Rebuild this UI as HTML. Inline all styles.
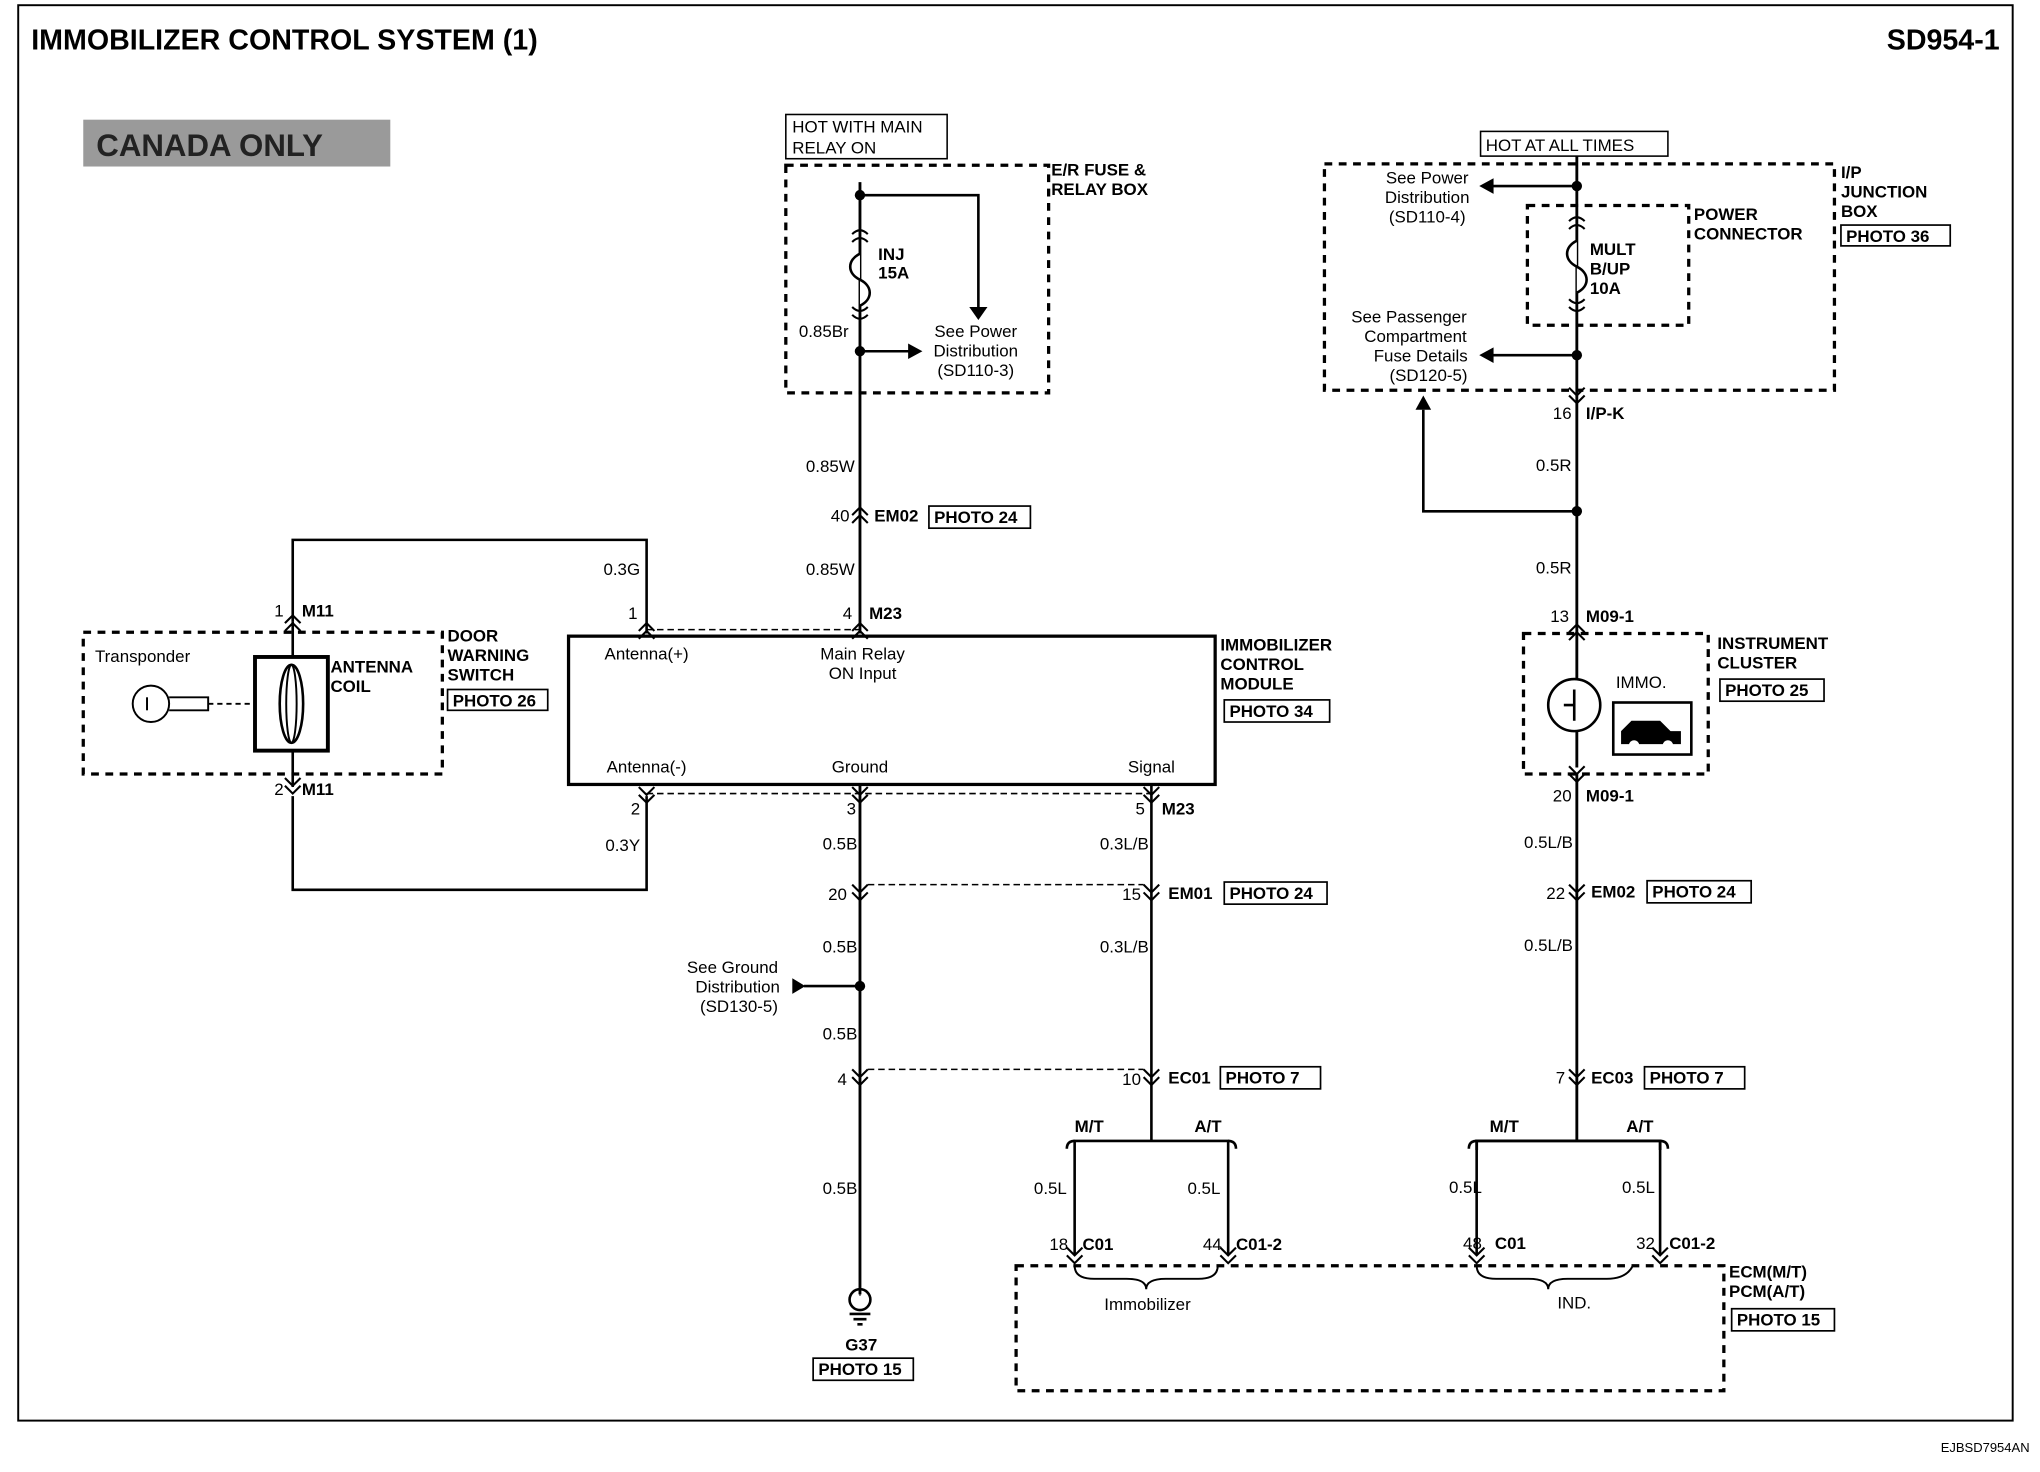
<!DOCTYPE html>
<html><head><meta charset="utf-8"><style>
html,body{margin:0;padding:0;background:#fff;}
svg{display:block;}
text{font-family:"Liberation Sans",Arial,sans-serif;font-size:13px;fill:#000;}
.b{font-weight:bold;}
</style></head><body>
<svg width="2040" height="1472" viewBox="0 0 1568 1131.5" preserveAspectRatio="none" xmlns="http://www.w3.org/2000/svg">
<defs>
<g id="cn" fill="none" stroke="#000" stroke-width="1.6"><path d="M-6,-7 L0,-1 L6,-7 M-6,-1 L0,5 L6,-1"/></g>
<g id="cu" fill="none" stroke="#000" stroke-width="1.6"><path d="M-6,7 L0,1 L6,7 M-6,1 L0,-5 L6,1"/></g>
</defs>
<rect x="0" y="0" width="1568" height="1131.5" fill="#fff"/>
<rect x="14" y="4" width="1533" height="1088" fill="none" stroke="#000" stroke-width="1.5"/>
<text x="24" y="38" class="b" style="font-size:22px">IMMOBILIZER CONTROL SYSTEM (1)</text>
<text x="1537" y="38" class="b" text-anchor="end" style="font-size:22px">SD954-1</text>
<text x="1560" y="1116" text-anchor="end" style="font-size:10px">EJBSD7954AN</text>
<rect x="64" y="92" width="236" height="36" fill="#9a9a9a"/>
<text x="74" y="120" class="b" style="font-size:24px;fill:#222">CANADA ONLY</text>

<g fill="none" stroke="#000">
<!-- left fuse box -->
<rect x="604" y="88" width="124" height="34" stroke-width="1.2"/>
<rect x="604" y="127" width="202" height="175" stroke-width="2.5" stroke-dasharray="6,5"/>
<path d="M661,140 V487" stroke-width="2.2"/>
<path d="M661,150 H752 V236" stroke-width="2"/>
<path d="M661,270 H700" stroke-width="2"/>
<path d="M655,180 q6,-6 12,0 M655,186 q6,-6 12,0" stroke-width="1.6"/>
<path d="M661,195 c-10,5 -10,15 0,20 c10,5 10,15 0,20" fill="#fff" stroke-width="2"/>
<path d="M655,236 q6,6 12,0 M655,242 q6,6 12,0" stroke-width="1.6"/>
<!-- module -->
<rect x="437" y="489" width="497" height="114" stroke-width="2.5"/>
<path d="M497,484 H661" stroke-width="1.2" stroke-dasharray="5,3"/>
<path d="M497,610 H885" stroke-width="1.2" stroke-dasharray="5,3"/>
<path d="M497,487 V415 H225 V478" stroke-width="2"/>
<path d="M225,612 V684 H497 V612" stroke-width="2"/>
<rect x="196" y="505" width="56" height="72" stroke-width="3"/>
<ellipse cx="224" cy="541" rx="9" ry="30" stroke-width="2"/>
<ellipse cx="224" cy="541" rx="4" ry="30" stroke-width="1.5"/>
<path d="M225,478 V505 M225,577 V605" stroke-width="2"/>
<rect x="64" y="486" width="276" height="109" stroke-width="2.5" stroke-dasharray="6,5"/>
<circle cx="116" cy="541" r="14" stroke-width="1.5"/>
<path d="M130,536 H160 V546 H130" stroke-width="1.5"/>
<path d="M113,536 V546" stroke-width="1.5"/>
<path d="M160,541 H196" stroke-width="1.5" stroke-dasharray="4,3"/>
<!-- ground wire -->
<path d="M661,603 V995" stroke-width="2.2"/>
<path d="M661,758 H618" stroke-width="2"/>
<path d="M667,680 H879 M667,822 H879" stroke-width="1.2" stroke-dasharray="5,3"/>
<path d="M885,603 V877 M826,884 V877 H944 V884" stroke-width="2"/>
<path d="M826,877 q-6,0 -6,6 M826,884 V965 M944,884 V965 M944,877 q6,0 6,6" stroke-width="2"/>
<path d="M661,995 V996" />
<circle cx="661" cy="999" r="8" stroke-width="2"/>
<path d="M653,1010 H669 M656,1014 H666 M659,1018 H663" stroke-width="2"/>
<rect x="781" y="973" width="544" height="96" stroke-width="2.5" stroke-dasharray="6,5"/>
<path d="M826,973 q0,10 15,10 h25 q15,0 15,8 q0,-8 15,-8 h25 q15,0 15,-10" stroke-width="1.5"/>
<path d="M1135,973 q0,10 15,10 h25 q15,0 15,8 q0,-8 15,-8 h30 q15,0 20,-10" stroke-width="1.5"/>
<!-- right -->
<rect x="1138" y="101" width="144" height="19" stroke-width="1.2"/>
<rect x="1018" y="126" width="392" height="174" stroke-width="2.5" stroke-dasharray="6,5"/>
<rect x="1174" y="158" width="124" height="92" stroke-width="2.5" stroke-dasharray="6,5"/>
<path d="M1212,120 V590" stroke-width="2.2"/>
<path d="M1212,143 H1146 M1212,273 H1146" stroke-width="2"/>
<path d="M1206,170 q6,-6 12,0 M1206,176 q6,-6 12,0" stroke-width="1.6"/>
<path d="M1212,185 c-10,5 -10,15 0,20 c10,5 10,15 0,20" fill="#fff" stroke-width="2"/>
<path d="M1206,230 q6,6 12,0 M1206,236 q6,6 12,0" stroke-width="1.6"/>
<path d="M1212,393 H1094 V315" stroke-width="2"/>
<rect x="1171" y="487" width="142" height="108" stroke-width="2.5" stroke-dasharray="6,5"/>
<circle cx="1210" cy="542" r="20" fill="#fff" stroke-width="2"/>
<path d="M1212,595 V877 M1135,884 V877 H1276 V884" stroke-width="2.2"/>
<path d="M1135,877 q-6,0 -6,6 M1135,884 V965 M1276,884 V965 M1276,877 q6,0 6,6" stroke-width="2"/>
<rect x="1240" y="540" width="60" height="40" stroke-width="2"/>
<!-- photo boxes -->
<g stroke-width="1.3">
<rect x="714" y="389" width="78" height="17"/>
<rect x="941" y="538" width="81" height="17"/>
<rect x="344" y="530" width="77" height="16"/>
<rect x="625" y="1044" width="77" height="17"/>
<rect x="941" y="678" width="79" height="17"/>
<rect x="938" y="820" width="77" height="17"/>
<rect x="1331" y="1006" width="79" height="17"/>
<rect x="1415" y="173" width="84" height="16"/>
<rect x="1322" y="522" width="80" height="17"/>
<rect x="1266" y="677" width="80" height="17"/>
<rect x="1264" y="820" width="77" height="17"/>
</g>
</g>
<circle cx="661" cy="150" r="4"/><circle cx="661" cy="270" r="4"/><circle cx="661" cy="758" r="4"/>
<circle cx="1212" cy="143" r="4"/><circle cx="1212" cy="273" r="4"/><circle cx="1212" cy="393" r="4"/>
<polygon points="745,236 759,236 752,246"/>
<polygon points="698,264 698,276 709,270"/>
<polygon points="1148,137 1148,149 1137,143"/>
<polygon points="1148,267 1148,279 1137,273"/>
<polygon points="1088,315 1100,315 1094,304"/>
<polygon points="609,752 609,764 619,758"/>
<path d="M1246,572 v-10 l8,-8 h22 l8,8 h8 v10 z" fill="#000"/>
<circle cx="1256" cy="573" r="4" fill="#fff"/><circle cx="1282" cy="573" r="4" fill="#fff"/>
<path d="M1202,542 h8 M1210,530 v24" stroke="#000" stroke-width="2" fill="none"/>
<!-- connectors -->
<use href="#cu" x="661" y="395"/><use href="#cu" x="661" y="484"/><use href="#cu" x="497" y="484"/>
<use href="#cu" x="225" y="478"/><use href="#cn" x="225" y="605"/>
<use href="#cn" x="497" y="612"/><use href="#cn" x="661" y="612"/><use href="#cn" x="885" y="612"/>
<use href="#cn" x="661" y="687"/><use href="#cn" x="885" y="687"/>
<use href="#cn" x="661" y="829"/><use href="#cn" x="885" y="829"/>
<use href="#cn" x="826" y="966"/><use href="#cn" x="944" y="966"/>
<use href="#cn" x="1135" y="966"/><use href="#cn" x="1276" y="966"/>
<use href="#cn" x="1212" y="305"/><use href="#cu" x="1212" y="485"/><use href="#cn" x="1212" y="596"/>
<use href="#cn" x="1212" y="687"/><use href="#cn" x="1212" y="829"/>
<!-- texts -->
<text x="609" y="102">HOT WITH MAIN</text><text x="609" y="118">RELAY ON</text>
<text x="808" y="135" class="b">E/R FUSE &amp;</text><text x="808" y="150" class="b">RELAY BOX</text>
<text x="675" y="200" class="b">INJ</text><text x="675" y="214" class="b">15A</text>
<text x="614" y="259">0.85Br</text>
<text x="750" y="259" text-anchor="middle">See Power</text><text x="750" y="274" text-anchor="middle">Distribution</text><text x="750" y="289" text-anchor="middle">(SD110-3)</text>
<text x="657" y="363" text-anchor="end">0.85W</text>
<text x="653" y="401" text-anchor="end">40</text><text x="672" y="401" class="b">EM02</text><text x="718" y="402" class="b">PHOTO 24</text>
<text x="657" y="442" text-anchor="end">0.85W</text>
<text x="655" y="476" text-anchor="end">4</text><text x="668" y="476" class="b">M23</text>
<text x="492" y="442" text-anchor="end">0.3G</text><text x="490" y="476" text-anchor="end">1</text>
<text x="497" y="507" text-anchor="middle">Antenna(+)</text>
<text x="663" y="507" text-anchor="middle">Main Relay</text><text x="663" y="522" text-anchor="middle">ON Input</text>
<text x="497" y="594" text-anchor="middle">Antenna(-)</text><text x="661" y="594" text-anchor="middle">Ground</text><text x="885" y="594" text-anchor="middle">Signal</text>
<text x="938" y="500" class="b">IMMOBILIZER</text><text x="938" y="515" class="b">CONTROL</text><text x="938" y="530" class="b">MODULE</text>
<text x="945" y="551" class="b">PHOTO 34</text>
<text x="218" y="474" text-anchor="end">1</text><text x="232" y="474" class="b">M11</text>
<text x="218" y="611" text-anchor="end">2</text><text x="232" y="611" class="b">M11</text>
<text x="73" y="509">Transponder</text>
<text x="254" y="517" class="b">ANTENNA</text><text x="254" y="532" class="b">COIL</text>
<text x="344" y="493" class="b">DOOR</text><text x="344" y="508" class="b">WARNING</text><text x="344" y="523" class="b">SWITCH</text>
<text x="348" y="543" class="b">PHOTO 26</text>
<text x="492" y="654" text-anchor="end">0.3Y</text><text x="492" y="626" text-anchor="end">2</text>
<text x="658" y="626" text-anchor="end">3</text>
<text x="880" y="626" text-anchor="end">5</text><text x="893" y="626" class="b">M23</text>
<text x="659" y="653" text-anchor="end">0.5B</text><text x="883" y="653" text-anchor="end">0.3L/B</text>
<text x="651" y="692" text-anchor="end">20</text><text x="877" y="692" text-anchor="end">15</text><text x="898" y="691" class="b">EM01</text><text x="945" y="691" class="b">PHOTO 24</text>
<text x="659" y="732" text-anchor="end">0.5B</text><text x="883" y="732" text-anchor="end">0.3L/B</text>
<text x="563" y="748" text-anchor="middle">See Ground</text><text x="567" y="763" text-anchor="middle">Distribution</text><text x="568" y="778" text-anchor="middle">(SD130-5)</text>
<text x="659" y="799" text-anchor="end">0.5B</text>
<text x="651" y="834" text-anchor="end">4</text><text x="877" y="834" text-anchor="end">10</text><text x="898" y="833" class="b">EC01</text><text x="942" y="833" class="b">PHOTO 7</text>
<text x="826" y="870" class="b">M/T</text><text x="918" y="870" class="b">A/T</text>
<text x="820" y="918" text-anchor="end">0.5L</text><text x="938" y="918" text-anchor="end">0.5L</text>
<text x="659" y="918" text-anchor="end">0.5B</text>
<text x="821" y="961" text-anchor="end">18</text><text x="832" y="961" class="b">C01</text>
<text x="939" y="961" text-anchor="end">44</text><text x="950" y="961" class="b">C01-2</text>
<text x="882" y="1007" text-anchor="middle">Immobilizer</text><text x="1210" y="1006" text-anchor="middle">IND.</text>
<text x="1329" y="982" class="b">ECM(M/T)</text><text x="1329" y="997" class="b">PCM(A/T)</text><text x="1335" y="1019" class="b">PHOTO 15</text>
<text x="662" y="1038" text-anchor="middle" class="b">G37</text><text x="629" y="1057" class="b">PHOTO 15</text>
<text x="1142" y="116">HOT AT ALL TIMES</text>
<text x="1415" y="137" class="b">I/P</text><text x="1415" y="152" class="b">JUNCTION</text><text x="1415" y="167" class="b">BOX</text>
<text x="1419" y="186" class="b">PHOTO 36</text>
<text x="1302" y="169" class="b">POWER</text><text x="1302" y="184" class="b">CONNECTOR</text>
<text x="1097" y="141" text-anchor="middle">See Power</text><text x="1097" y="156" text-anchor="middle">Distribution</text><text x="1097" y="171" text-anchor="middle">(SD110-4)</text>
<text x="1222" y="196" class="b">MULT</text><text x="1222" y="211" class="b">B/UP</text><text x="1222" y="226" class="b">10A</text>
<text x="1083" y="248" text-anchor="middle">See Passenger</text><text x="1088" y="263" text-anchor="middle">Compartment</text><text x="1092" y="278" text-anchor="middle">Fuse Details</text><text x="1098" y="293" text-anchor="middle">(SD120-5)</text>
<text x="1208" y="322" text-anchor="end">16</text><text x="1219" y="322" class="b">I/P-K</text>
<text x="1208" y="362" text-anchor="end">0.5R</text><text x="1208" y="441" text-anchor="end">0.5R</text>
<text x="1206" y="478" text-anchor="end">13</text><text x="1219" y="478" class="b">M09-1</text>
<text x="1242" y="529">IMMO.</text>
<text x="1320" y="499" class="b">INSTRUMENT</text><text x="1320" y="514" class="b">CLUSTER</text><text x="1326" y="535" class="b">PHOTO 25</text>
<text x="1208" y="616" text-anchor="end">20</text><text x="1219" y="616" class="b">M09-1</text>
<text x="1209" y="652" text-anchor="end">0.5L/B</text>
<text x="1203" y="691" text-anchor="end">22</text><text x="1223" y="690" class="b">EM02</text><text x="1270" y="690" class="b">PHOTO 24</text>
<text x="1209" y="731" text-anchor="end">0.5L/B</text>
<text x="1203" y="833" text-anchor="end">7</text><text x="1223" y="833" class="b">EC03</text><text x="1268" y="833" class="b">PHOTO 7</text>
<text x="1145" y="870" class="b">M/T</text><text x="1250" y="870" class="b">A/T</text>
<text x="1139" y="917" text-anchor="end">0.5L</text><text x="1272" y="917" text-anchor="end">0.5L</text>
<text x="1139" y="960" text-anchor="end">48</text><text x="1149" y="960" class="b">C01</text>
<text x="1272" y="960" text-anchor="end">32</text><text x="1283" y="960" class="b">C01-2</text>
</svg>
</body></html>
